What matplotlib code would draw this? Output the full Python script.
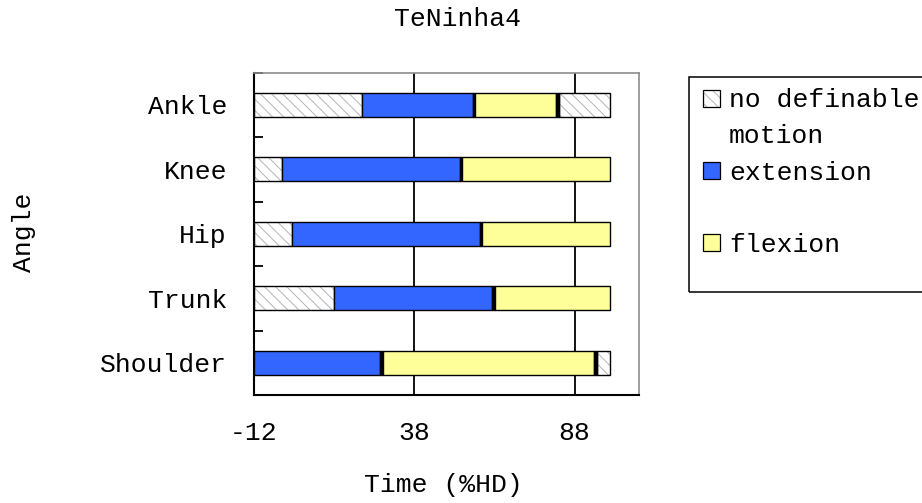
import matplotlib
matplotlib.use("Agg")
import matplotlib.pyplot as plt
from matplotlib.patches import Rectangle
import numpy as np

plt.rcParams["font.family"] = ["Liberation Mono", "DejaVu Sans Mono"]
plt.rcParams["hatch.linewidth"] = 0.7

# ---- data -------------------------------------------------------------
title = "TeNinha4"
angles = ["Ankle", "Knee", "Hip", "Trunk", "Shoulder"]
x_start = -12
x_ticks = [-12, 38, 88]
x_limits = (-12, 108)

# stacked segment lengths (Time, %HD), in drawing order along each bar
no_motion_start = [33.8, 8.8, 11.9, 24.9, 0.0]
extension = [34.4, 55.4, 58.5, 49.4, 39.3]
transition_a = [0.8, 0.8, 0.8, 0.8, 0.8]
flexion = [25.3, 46.1, 39.9, 36.0, 66.0]
transition_b = [0.8, 0.0, 0.0, 0.0, 0.8]
no_motion_end = [16.0, 0.0, 0.0, 0.0, 4.2]

legend_labels = ["no definable\nmotion", "extension", "flexion"]

# ---- styles -----------------------------------------------------------
HATCH_GREY = "#b4b4b4"
BLUE = "#3366ff"
YELLOW = "#ffff99"
styles = {
    "none": dict(facecolor="white", hatch="\\" * 3),
    "ext": dict(facecolor=BLUE, hatch=None),
    "trans": dict(facecolor="black", hatch=None),
    "flex": dict(facecolor=YELLOW, hatch=None),
}
series = [
    (no_motion_start, "none"),
    (extension, "ext"),
    (transition_a, "trans"),
    (flexion, "flex"),
    (transition_b, "trans"),
    (no_motion_end, "none"),
]

W, H = 922, 503
fig = plt.figure(figsize=(W / 100, H / 100), dpi=100)


def fx(px):
    return px / W


def fy(py):
    return 1 - py / H


ax_l, ax_r, ax_t, ax_b = 254, 638.7, 72.7, 395
ax = fig.add_axes([fx(ax_l), fy(ax_b), (ax_r - ax_l) / W, (ax_b - ax_t) / H])

y = np.arange(len(angles))
bar_h = 0.372
left = np.full(len(angles), float(x_start))
for values, kind in series:
    vals = np.asarray(values, dtype=float)
    st = styles[kind]
    mask = vals > 0
    if st["hatch"]:
        ax.barh(y[mask], vals[mask], left=left[mask], height=bar_h,
                color=st["facecolor"], edgecolor=HATCH_GREY, hatch=st["hatch"],
                linewidth=0, zorder=2)
        ax.barh(y[mask], vals[mask], left=left[mask], height=bar_h,
                fill=False, edgecolor="black", linewidth=1.0, zorder=3)
    else:
        ax.barh(y[mask], vals[mask], left=left[mask], height=bar_h,
                color=st["facecolor"], edgecolor="black", linewidth=1.0, zorder=3)
    left += vals

ax.set_xlim(*x_limits)
ax.set_ylim(len(angles) - 0.5, -0.5)

ax.set_xticks(x_ticks)
ax.set_xticklabels([str(t) for t in x_ticks])
ax.set_yticks(y)
ax.set_yticklabels(angles)
ax.set_yticks(np.arange(-0.5, len(angles) + 0.5, 1.0), minor=True)
ax.tick_params(axis="x", length=0, pad=18.5, labelsize=19)
ax.tick_params(axis="y", which="major", length=0, pad=19.5, labelsize=19)
ax.tick_params(axis="y", which="minor", direction="in", length=6.5,
               width=1.3, color="black")

ax.grid(axis="x", color="black", linewidth=1.3, zorder=1)
ax.set_axisbelow(True)

for side in ("left", "bottom"):
    ax.spines[side].set_color("black")
    ax.spines[side].set_linewidth(1.5)
for side in ("top", "right"):
    ax.spines[side].set_color("#8c8c8c")
    ax.spines[side].set_linewidth(1.2)

# titles
fig.text(fx(457), fy(19), title, ha="center", va="center", fontsize=19)
fig.text(fx(443), fy(485), "Time (%HD)", ha="center", va="center", fontsize=19)
fig.text(fx(24), fy(232), "Angle", ha="center", va="center", fontsize=19,
         rotation=90)

# legend box
fig.add_artist(Rectangle((fx(689), fy(292)), (950 - 689) / W, (292 - 77) / H,
                         transform=fig.transFigure, fill=False,
                         edgecolor="black", linewidth=1.1))
legend_kinds = ["none", "ext", "flex"]
base0, step, line_step = 107.3, 72.3, 36.0
sq = 17
for i, (label, kind) in enumerate(zip(legend_labels, legend_kinds)):
    base = base0 + i * step
    cy = base - 9
    st = styles[kind]
    if st["hatch"]:
        fig.add_artist(Rectangle((fx(703), fy(cy + sq / 2)), sq / W, sq / H,
                                 transform=fig.transFigure,
                                 facecolor="white", edgecolor=HATCH_GREY,
                                 hatch=st["hatch"], linewidth=0))
        fig.add_artist(Rectangle((fx(703), fy(cy + sq / 2)), sq / W, sq / H,
                                 transform=fig.transFigure, fill=False,
                                 edgecolor="black", linewidth=0.9))
    else:
        fig.add_artist(Rectangle((fx(703), fy(cy + sq / 2)), sq / W, sq / H,
                                 transform=fig.transFigure,
                                 facecolor=st["facecolor"], edgecolor="black",
                                 linewidth=0.9))
    for j, line in enumerate(label.split("\n")):
        fig.text(fx(729), fy(base + j * line_step), line, ha="left",
                 va="baseline", fontsize=19)

fig.savefig("out.png", dpi=100)
